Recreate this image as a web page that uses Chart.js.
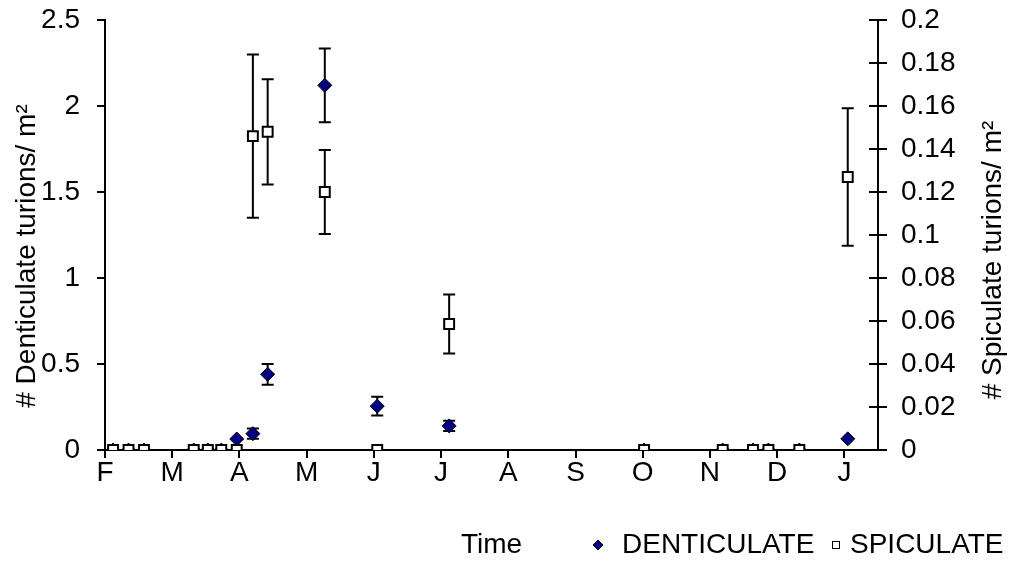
<!DOCTYPE html>
<html>
<head>
<meta charset="utf-8">
<script src="https://cdn.jsdelivr.net/npm/chart.js@4/dist/chart.umd.min.js"></script>
<style>
  html, body { margin: 0; padding: 0; background: #fff; }
  #wrap { width: 1022px; height: 562px; }
</style>
</head>
<body>
<div id="wrap"><canvas id="chart" width="1022" height="562"></canvas></div>
<script>
// x positions are months after 1 Feb (0 = F, 1 = M, ... 11 = J)
const monthLabels = ["F", "M", "A", "M", "J", "J", "A", "S", "O", "N", "D", "J"];
const sampleMonths = [0.12, 0.35, 0.58, 1.32, 1.53, 1.73, 1.96, 2.2, 2.42, 3.27, 4.05, 5.12, 8.02, 9.19, 9.64, 9.87, 10.33, 11.05];

const denticulateMean = [0, 0, 0, 0, 0, 0, 0.064, 0.095, 0.44, 2.12, 0.255, 0.14, 0, 0, 0, 0, 0, 0.065];
const denticulateErr  = [0, 0, 0, 0, 0, 0, 0, 0.03, 0.06, 0.215, 0.055, 0.03, 0, 0, 0, 0, 0, 0];

const spiculateMean = [0, 0, 0, 0, 0, 0, 0, 0.146, 0.148, 0.12, 0, 0.0586, 0, 0, 0, 0, 0, 0.127];
const spiculateErr  = [0, 0, 0, 0, 0, 0, 0, 0.038, 0.0245, 0.0195, 0, 0.0137, 0, 0, 0, 0, 0, 0.032];

const leftTicks = [0, 0.5, 1, 1.5, 2, 2.5];
const rightTicks = [0, 0.02, 0.04, 0.06, 0.08, 0.1, 0.12, 0.14, 0.16, 0.18, 0.2];

const FONT = "'Liberation Sans', Arial, sans-serif";
Chart.defaults.font.family = FONT;
Chart.defaults.font.size = 28;
Chart.defaults.color = "#000";

const toPoints = (ys) => sampleMonths.map((x, i) => ({ x: x, y: ys[i] }));
const plainNum = (v) => String(+v.toFixed(3));
const fitY = (w) => (s) => { s.width = w; s.paddingTop = 0; s.paddingBottom = 0; };

// error bars drawn behind the markers
const errorBars = {
  id: "errorBars",
  beforeDatasetsDraw(chart) {
    const ctx = chart.ctx;
    ctx.save();
    ctx.strokeStyle = "#000";
    ctx.lineWidth = 2;
    chart.data.datasets.forEach((ds, di) => {
      if (!ds.errors) return;
      const meta = chart.getDatasetMeta(di);
      const yScale = chart.scales[ds.yAxisID];
      meta.data.forEach((pt, i) => {
        const e = ds.errors[i];
        if (!e) return;
        const v = ds.data[i].y;
        const top = yScale.getPixelForValue(v + e);
        const bot = yScale.getPixelForValue(v - e);
        ctx.beginPath();
        ctx.moveTo(pt.x, top); ctx.lineTo(pt.x, bot);
        ctx.moveTo(pt.x - 6, top); ctx.lineTo(pt.x + 6, top);
        ctx.moveTo(pt.x - 6, bot); ctx.lineTo(pt.x + 6, bot);
        ctx.stroke();
      });
    });
    ctx.restore();
  },
  afterDraw(chart) {
    const ctx = chart.ctx;
    const area = chart.chartArea;
    const y2 = chart.scales.y2;
    ctx.save();
    // inner half of the right axis ticks
    ctx.strokeStyle = "#000";
    ctx.lineWidth = 2;
    y2.ticks.forEach((t) => {
      const py = Math.round(y2.getPixelForValue(t.value));
      ctx.beginPath();
      ctx.moveTo(area.right - 9, py); ctx.lineTo(area.right, py);
      ctx.stroke();
    });

    // rotated axis titles (both read bottom to top)
    ctx.fillStyle = "#000";
    ctx.font = "28px " + FONT;
    ctx.textAlign = "center";
    ctx.textBaseline = "middle";
    [["# Denticulate turions/ m\u00B2", 27, 256], ["# Spiculate turions/ m\u00B2", 993, 260]].forEach(([txt, x, y]) => {
      ctx.save();
      ctx.translate(x, y);
      ctx.rotate(-Math.PI / 2);
      ctx.fillText(txt, 0, 0);
      ctx.restore();
    });

    // legend
    const ly = 545;
    ctx.textAlign = "left";
    ctx.lineWidth = 1;
    ctx.beginPath();
    ctx.moveTo(598, ly - 5); ctx.lineTo(603, ly); ctx.lineTo(598, ly + 5); ctx.lineTo(593, ly); ctx.closePath();
    ctx.fillStyle = "#000080"; ctx.fill(); ctx.stroke();
    ctx.fillStyle = "#000";
    ctx.fillText(chart.data.datasets[1].label, 622, ly);
    ctx.fillStyle = "#fff";
    ctx.fillRect(832, ly - 4, 8, 8);
    ctx.strokeRect(832.5, ly - 3.5, 7, 7);
    ctx.fillStyle = "#000";
    ctx.fillText(chart.data.datasets[0].label, 850, ly);
    ctx.restore();
  }
};

new Chart(document.getElementById("chart"), {
  type: "scatter",
  data: {
    datasets: [
      {
        label: "SPICULATE",
        data: toPoints(spiculateMean),
        errors: spiculateErr,
        yAxisID: "y2",
        order: 0,
        pointStyle: "rect",
        pointRadius: 7,
        backgroundColor: "#fff",
        borderColor: "#000",
        borderWidth: 2,
      },
      {
        label: "DENTICULATE",
        data: toPoints(denticulateMean),
        errors: denticulateErr,
        yAxisID: "y",
        order: 1,
        pointStyle: "rectRot",
        pointRadius: 7,
        backgroundColor: "#000080",
        borderColor: "#000",
        borderWidth: 1,
      },
    ],
  },
  options: {
    responsive: false,
    animation: false,
    layout: { padding: { top: 20, left: 0, right: 0, bottom: 0 } },
    plugins: { legend: { display: false }, tooltip: { enabled: false } },
    scales: {
      x: {
        type: "linear",
        min: 0,
        max: 11.5,
        afterBuildTicks: (s) => { s.ticks = monthLabels.map((m, i) => ({ value: i })); },
        afterFit: (s) => { s.height = 112; },
        ticks: {
          padding: -2,
          maxRotation: 0,
          autoSkip: false,
          callback: (v) => monthLabels[v],
        },
        grid: { drawOnChartArea: false, drawTicks: true, tickLength: 8, color: "#000", lineWidth: 2 },
        border: { display: true, color: "#000", width: 2 },
        title: { display: true, text: "Time", padding: { top: 0, bottom: 0 } },
      },
      y: {
        position: "left",
        min: 0,
        max: 2.5,
        afterBuildTicks: (s) => { s.ticks = leftTicks.map((v) => ({ value: v })); },
        afterFit: fitY(105),
        ticks: { padding: 17, callback: plainNum },
        grid: { drawOnChartArea: false, drawTicks: true, tickLength: 8, color: "#000", lineWidth: 2 },
        border: { display: true, color: "#000", width: 2 },
      },
      y2: {
        position: "right",
        min: 0,
        max: 0.2,
        afterBuildTicks: (s) => { s.ticks = rightTicks.map((v) => ({ value: v })); },
        afterFit: fitY(144),
        ticks: { padding: 14, callback: plainNum },
        grid: { drawOnChartArea: false, drawTicks: true, tickLength: 9, color: "#000", lineWidth: 2 },
        border: { display: true, color: "#000", width: 2 },
      },
    },
  },
  plugins: [errorBars],
});
</script>
</body>
</html>
